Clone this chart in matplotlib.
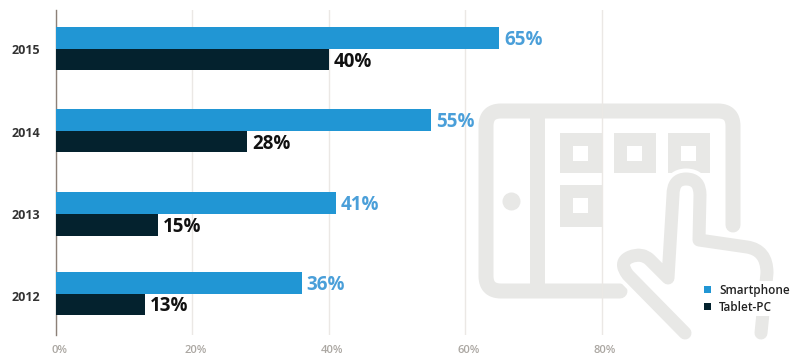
import matplotlib
matplotlib.use("Agg")
import matplotlib.pyplot as plt
from matplotlib.path import Path
from matplotlib.patches import PathPatch, Circle, Rectangle
from matplotlib.transforms import ScaledTranslation

years = ["2012", "2013", "2014", "2015"]
smartphone = [36, 41, 55, 65]
tablet = [13, 15, 28, 40]
x_ticks = [0, 20, 40, 60, 80]
x_tick_labels = ["0%", "20%", "40%", "60%", "80%"]

# vertical layout of the rows, in pixels from the top of the figure
row_centres = [293.5, 214, 130.7, 48.7]
year_label_y = [296, 214, 131.5, 49]

BLUE = "#2196d4"
DARK = "#04222e"
BLUE_TXT = "#4a9fd9"
ICON = "#e8e8e6"
GRID = "#ebe8e5"

plt.rcParams["font.family"] = ["Open Sans", "DejaVu Sans"]

W, H = 797, 357
fig = plt.figure(figsize=(W / 100, H / 100), dpi=100, facecolor="white")


def stroke(ax, verts, codes, lw_px, color=ICON, z=1):
    # line widths are given in pixels, the figure runs at 100 dpi
    ax.add_patch(PathPatch(Path(verts, codes), fc="none", ec=color, lw=lw_px * 0.72,
                           capstyle="round", joinstyle="round", zorder=z))


# tablet and hand drawing behind the bars, in pixel coordinates
bg = fig.add_axes([0, 0, 1, 1], zorder=0)
bg.set_xlim(0, W)
bg.set_ylim(H, 0)
bg.axis("off")

M, L, Q = Path.MOVETO, Path.LINETO, Path.CURVE3
frame = [(733, 225), (733, 126), (733, 111), (718, 111), (501, 111), (486, 111), (486, 126),
         (486, 276), (486, 291), (501, 291), (620, 291)]
frame_codes = [M, L, Q, Q, L, Q, Q, L, Q, Q, L]
stroke(bg, frame, frame_codes, 15)
bg.add_patch(Rectangle((530, 111), 15, 180, fc=ICON, ec="none", zorder=1))
bg.add_patch(Circle((511.5, 201.5), 9, fc=ICON, ec="none", zorder=1))

for x0, y0, h in [(560, 133, 40), (614, 133, 40), (668, 133, 40), (560, 185, 42)]:
    bg.add_patch(Rectangle((x0, y0), 42, h, fc=ICON, ec="none", zorder=1))
    bg.add_patch(Rectangle((x0 + 13, y0 + 13), 15, 15, fc="white", ec="none", zorder=2))

hand = [(685, 333), (628, 275), (618, 262), (630, 257), (642, 252), (650, 260), (668, 278),
        (673, 195), (673, 179), (686, 179), (700, 179), (700, 195), (699, 240),
        (747, 247), (767, 250), (767, 273), (761, 333)]
hand_codes = [M, L, Q, Q, Q, Q, L, L,
              Q, Q, Q, Q, L,
              L, Q, Q, L]
stroke(bg, hand, hand_codes, 21, color="white", z=3)
stroke(bg, hand, hand_codes, 13, z=4)

# main chart, y axis counted in pixels so rows sit where row_centres says
left, right, top, bottom = 56, W, 10, 335
ax = fig.add_axes([left / W, 1 - bottom / H, (right - left) / W, (bottom - top) / H], zorder=1)
ax.patch.set_visible(False)
px_per_pct = 6.82
ax.set_xlim(0, (right - left) / px_per_pct)
ax.set_ylim(bottom, top)

bar_h = 21.6
bars_s = ax.barh([c - bar_h / 2 for c in row_centres], smartphone, bar_h, color=BLUE, zorder=3, label="Smartphone")
bars_t = ax.barh([c + bar_h / 2 for c in row_centres], tablet, bar_h, color=DARK, zorder=3, label="Tablet-PC")

for c, v in zip(row_centres, smartphone):
    ax.annotate(f"{v}%", (v, c - bar_h / 2), xytext=(3.5, -1.5), textcoords="offset points",
                va="center", ha="left", fontsize=13.5, fontweight="bold", color=BLUE_TXT)
for c, v in zip(row_centres, tablet):
    ax.annotate(f"{v}%", (v, c + bar_h / 2), xytext=(3.5, -1.5), textcoords="offset points",
                va="center", ha="left", fontsize=13.5, fontweight="bold", color="#111111")

ax.set_xticks(x_ticks)
ax.set_xticklabels(x_tick_labels, fontsize=8, color="#aba7a2", fontweight="semibold")
ax.set_yticks(year_label_y)
ax.set_yticklabels(years, fontsize=9, fontweight="bold", color="#333333")
ax.tick_params(axis="both", length=0)
ax.tick_params(axis="y", pad=11.5)
ax.tick_params(axis="x", pad=7)
shift = ScaledTranslation(3 / 100, 0, fig.dpi_scale_trans)
for lab in ax.get_xticklabels():
    lab.set_transform(lab.get_transform() + shift)

ax.grid(axis="x", color=GRID, lw=1, zorder=0)
ax.set_axisbelow(True)
for name in ["top", "right", "bottom"]:
    ax.spines[name].set_visible(False)
ax.spines["left"].set_color("#8c8078")
ax.spines["left"].set_linewidth(1)

leg = ax.legend(handles=[bars_s, bars_t], loc="lower left", bbox_to_anchor=(702 / W, 1 - 316 / H),
                bbox_transform=fig.transFigure, frameon=True, framealpha=1, facecolor="white",
                edgecolor="none", fontsize=8.5, handlelength=0.55, handleheight=0.55,
                handletextpad=0.7, labelspacing=0.35, borderpad=0.2, borderaxespad=0)
for t in leg.get_texts():
    t.set_color("#222222")
    t.set_fontweight("semibold")

fig.savefig("out.png", dpi=100)
